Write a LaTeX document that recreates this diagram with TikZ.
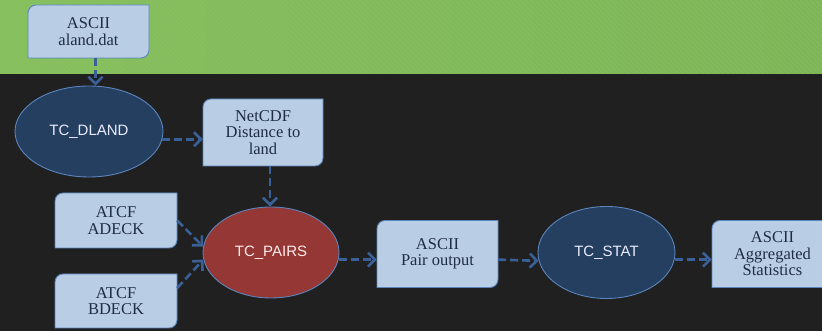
\documentclass[tikz,border=0pt]{standalone}
\usepackage{fontspec}
\setmainfont{Liberation Serif}
\newfontfamily\labelsans{Liberation Sans}
\usetikzlibrary{shapes.geometric,arrows.meta}

\definecolor{bandgreenL}{HTML}{86BF5E}
\definecolor{bandgreenR}{HTML}{7CB557}
\definecolor{stripegreen}{HTML}{93C76A}
\definecolor{slate}{HTML}{202020}
\definecolor{boxfill}{HTML}{B9CDE5}
\definecolor{boxedge}{HTML}{5B85BC}
\definecolor{boxink}{HTML}{1E2C44}
\definecolor{navyfill}{HTML}{243F60}
\definecolor{redfill}{HTML}{953735}
\definecolor{flowblue}{HTML}{3A6197}

\tikzset{
  x=1pt, y=1pt,
  databoxpath/.style={fill=boxfill, draw=boxedge, line width=0.9pt},
  datatext/.style={inner sep=0pt, align=center, text=boxink,
    font=\fontsize{16.5}{16.5}\selectfont},
  process/.style={ellipse, inner sep=0pt, draw=boxedge, line width=0.9pt,
    font=\labelsans\fontsize{15}{17}\selectfont},
  darkproc/.style={process, fill=navyfill, text=white!92!blue},
  redproc/.style={process, fill=redfill, text=white!92!red},
  flow/.style={draw=flowblue, line width=2.6pt, dash pattern=on 8pt off 4pt,
    -{Straight Barb[length=7pt,width=14pt,line width=2.6pt]}},
}

% data box with rounded top-left and bottom-right corners
% #1 name, #2 centre x, #3 centre y, #4 width, #5 height, #6 text
\newcommand{\databox}[6]{%
  \path[databoxpath]
    ({#2-#4/2},{#3-#5/2}) -- ({#2-#4/2},{#3+#5/2-8})
    arc[start angle=180, end angle=90, radius=8]
    -- ({#2+#4/2},{#3+#5/2}) -- ({#2+#4/2},{#3-#5/2+8})
    arc[start angle=0, end angle=-90, radius=8]
    -- cycle;
  \node[datatext, minimum width=#4, minimum height=#5] (#1) at (#2,#3) {#6};%
}

\begin{document}
\begin{tikzpicture}
  % backdrop: green band over dark panel
  \useasboundingbox (0,0) rectangle (822,331);
  \fill[slate] (0,0) rectangle (822,257);
  \shade[left color=bandgreenL, right color=bandgreenR] (0,257) rectangle (822,331);
  \begin{scope}
    \clip (0,257) rectangle (822,331);
    \foreach \s in {-80,-75,...,900}
      \draw[stripegreen, opacity=0.3, line width=1.2pt] (\s,331) -- ++(80,-80);
  \end{scope}

  % inputs and products
  \databox{aland}{88.5}{299.5}{121}{53}{ASCII\\aland.dat}
  \databox{netcdf}{263}{198.5}{120}{67}{NetCDF\\Distance to\\land}
  \databox{adeck}{116}{110.5}{122}{55}{ATCF\\ADECK}
  \databox{bdeck}{116}{30}{122}{54}{ATCF\\BDECK}
  \databox{pairout}{437.5}{77}{121}{67}{ASCII\\Pair output}
  \databox{aggstat}{772.5}{77}{121}{67}{ASCII\\Aggregated\\Statistics}

  % processing tools
  \node[darkproc, minimum width=148, minimum height=91] (dland) at (89,199.5) {TC\_DLAND};
  \node[redproc, minimum width=136, minimum height=91] (pairs) at (271,78.5) {TC\_PAIRS};
  \node[darkproc, minimum width=137, minimum height=92] (stat) at (606.5,78.5) {TC\_STAT};

  % data flow
  \draw[flow] ([xshift=7pt]aland.south) -- ([xshift=7pt]aland.south |- dland.north);
  \draw[flow] (dland.-6) -- (netcdf.west |- dland.-6);
  \draw[flow] ([xshift=7pt]netcdf.south) -- ([xshift=7pt]netcdf.south |- pairs.north);
  \draw[flow] (adeck.east) -- (pairs.175);
  \draw[flow] ([yshift=13pt]bdeck.east) -- (pairs.186);
  \draw[flow] (pairs.-6) -- (pairout.west |- pairs.-6);
  \draw[flow] (pairout.east |- stat.-6) -- (stat.-173);
  \draw[flow] (stat.-6) -- (aggstat.west |- stat.-6);
\end{tikzpicture}
\end{document}
